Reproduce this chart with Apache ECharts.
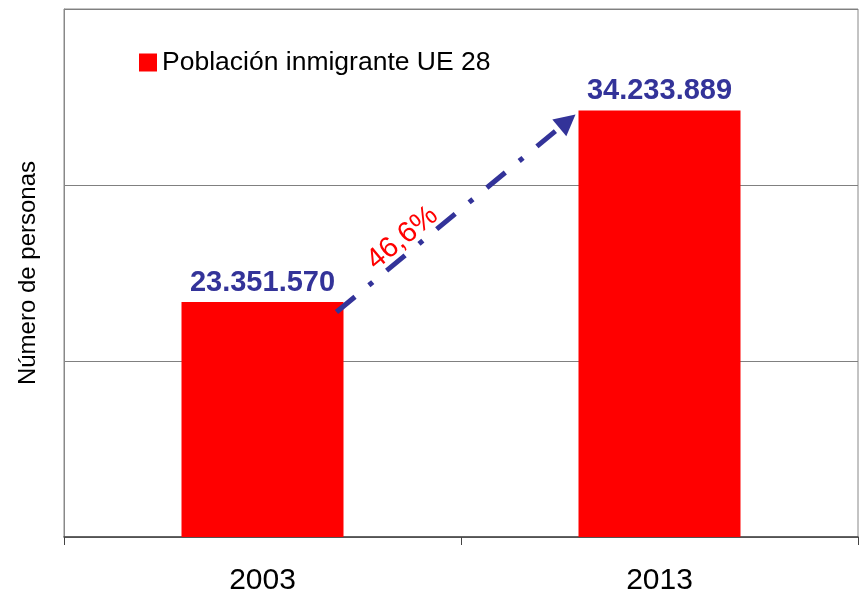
<!DOCTYPE html>
<html>
<head>
<meta charset="utf-8">
<script src="https://cdn.jsdelivr.net/npm/echarts@6/dist/echarts.min.js"></script>
<style>
  html, body { margin: 0; padding: 0; background: #fff; }
  #box1 { width: 861px; height: 592px; }
</style>
</head>
<body>
<div id="box1"></div>
<script>
let years = ['2003', '2013'];
let population = [23351570, 34233889];
let seriesName = 'Población inmigrante UE 28';
let growthLabel = '46,6%';

let font = 'Liberation Sans, Arial, sans-serif';
let blue = '#333399';

function fmt(v) {
    return String(v).replace(/\B(?=(\d{3})+(?!\d))/g, '.');
}

let box1 = document.querySelector('#box1');
let myChart1 = echarts.init(box1);
let option1 = {
    animation: false,
    textStyle: { fontFamily: font },
    legend: {
        left: 134,
        top: 44,
        icon: 'rect',
        itemWidth: 18,
        itemHeight: 18,
        textStyle: { fontSize: 26.5, color: '#000', fontFamily: font },
        data: [seriesName]
    },
    grid: {
        left: 64,
        right: 3,
        top: 9,
        bottom: 55,
        outerBoundsMode: 'none',
        show: true,
        borderColor: '#888',
        borderWidth: 1
    },
    xAxis: {
        type: 'category',
        data: years,
        axisLine: { lineStyle: { color: '#444', width: 1.5 } },
        axisTick: { show: true, length: 8, interval: 0, lineStyle: { color: '#444' } },
        axisLabel: { fontSize: 30, color: '#000', margin: 29, fontFamily: font }
    },
    yAxis: {
        type: 'value',
        min: 10000000,
        max: 40000000,
        interval: 10000000,
        name: 'Número de personas',
        nameLocation: 'middle',
        nameRotate: 90,
        nameGap: 24,
        nameTextStyle: { fontSize: 24, color: '#000', fontFamily: font },
        axisLine: { show: true, lineStyle: { color: '#888' } },
        axisTick: { show: false },
        axisLabel: { show: false },
        splitLine: { lineStyle: { color: '#808080', width: 1 } }
    },
    series: [
        {
            name: seriesName,
            type: 'bar',
            barWidth: 162,
            itemStyle: { color: '#ff0000' },
            label: {
                show: true,
                position: 'top',
                distance: 5,
                fontSize: 29,
                fontWeight: 'bold',
                color: blue,
                fontFamily: font,
                formatter: function (p) { return fmt(p.value); }
            },
            data: population
        }
    ]
};
myChart1.setOption(option1);

// arrow between bars
let p0 = myChart1.convertToPixel({ seriesIndex: 0 }, [0, population[0]]);
let p1 = myChart1.convertToPixel({ seriesIndex: 0 }, [1, population[1]]);
let x1 = p0[0] + 74, y1 = p0[1] + 10;
let x2 = p1[0] - 84, y2 = p1[1] + 4;
let dx = x2 - x1, dy = y2 - y1;
let len = Math.sqrt(dx * dx + dy * dy);
let ux = dx / len, uy = dy / len;
let headLen = 21, headW = 11;
let bx = x2 - ux * headLen, by = y2 - uy * headLen;
let angle = Math.atan2(-dy, dx);
let tx = x1 + dx * 0.316 + uy * 15, ty = y1 + dy * 0.316 - ux * 15;

myChart1.setOption({
    graphic: [
        {
            type: 'line',
            shape: { x1: x1, y1: y1, x2: bx, y2: by },
            style: { stroke: blue, lineWidth: 5, lineDash: [24, 18, 5, 18], lineCap: 'butt' },
            z: 10
        },
        {
            type: 'polygon',
            shape: {
                points: [
                    [x2, y2],
                    [bx - uy * headW, by + ux * headW],
                    [bx + uy * headW, by - ux * headW]
                ]
            },
            style: { fill: blue },
            z: 10
        },
        {
            type: 'text',
            x: tx,
            y: ty,
            rotation: angle,
            style: {
                text: growthLabel,
                fill: '#ff0000',
                fontSize: 29,
                fontFamily: font,
                align: 'center',
                verticalAlign: 'middle'
            },
            z: 11
        }
    ]
});
</script>
</body>
</html>
